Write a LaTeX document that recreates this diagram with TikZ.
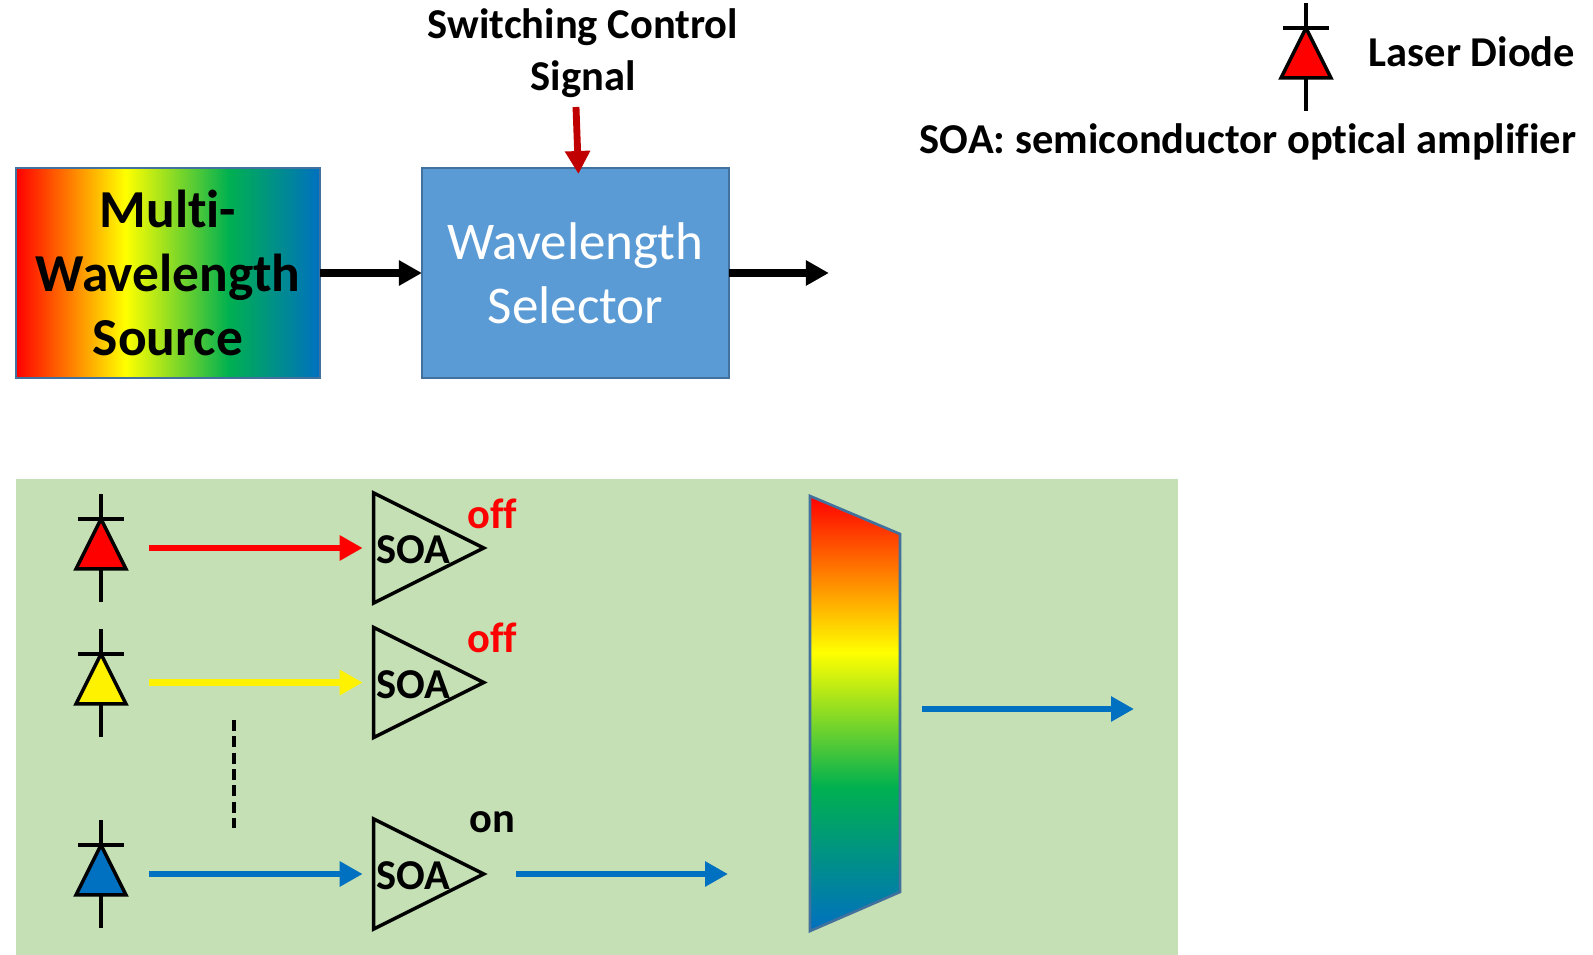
\documentclass[tikz,border=0pt]{standalone}
\usepackage{fontspec}
\setmainfont[Ligatures=NoCommon]{Carlito}
\usepackage{xcolor}
\usetikzlibrary{shapes.geometric, arrows.meta, positioning}
\definecolor{boxedge}{HTML}{41719C}
\definecolor{boxblue}{HTML}{5B9BD5}
\definecolor{panelgreen}{HTML}{C5E0B4}
\definecolor{laserblue}{HTML}{0070C0}
\definecolor{lasergreen}{HTML}{00B050}
\definecolor{ctrlred}{HTML}{C00000}
\pgfdeclarehorizontalshading{rainbowh}{100bp}{color(0bp)=(red); color(25bp)=(red); color(43bp)=(yellow); color(60bp)=(lasergreen); color(75bp)=(laserblue); color(100bp)=(laserblue)}
\pgfdeclareverticalshading{rainbowv}{100bp}{color(0bp)=(laserblue); color(25bp)=(laserblue); color(41.5bp)=(lasergreen); color(57bp)=(yellow); color(75bp)=(red); color(100bp)=(red)}
\tikzset{
	blockbox/.style={rectangle, draw=boxedge, line width=1.5pt, outer sep=0pt,
		minimum height=4.2cm, align=center},
	labeltext/.style={font=\fontsize{24.2}{29.4}\selectfont\bfseries, align=center},
	soabox/.style={isosceles triangle, isosceles triangle stretches, draw=black,
		line width=2pt, inner sep=0pt, outer sep=0pt,
		minimum width=2.2cm, minimum height=2.2cm},
	soatext/.style={font=\fontsize{24.2}{29}\selectfont\bfseries, inner sep=0pt},
	laser/.style={isosceles triangle, isosceles triangle stretches, draw=black,
		shape border rotate=90, line width=2pt, inner sep=0pt, outer sep=0pt,
		minimum width=1.0cm, minimum height=1.0cm, anchor=apex},
	lead/.style={line width=2pt, draw=black},
	bigarrow/.style={-{Triangle[length=0.46cm,width=0.48cm]}, line width=4.2pt},
	sigarrow/.style={-{Triangle[length=0.46cm,width=0.48cm]}, line width=3.9pt}
}
\begin{document}
\begin{tikzpicture}[x=0.02cm, y=-0.02cm]
	\useasboundingbox (0,0) rectangle (1593,955);
	
	%% ---- Top blocks ----
	\node[blockbox, shading=rainbowh, minimum width=6.08cm, font=\fontsize{30.4}{36.4}\selectfont\bfseries] (source) at (168,273) {Multi-\\Wavelength\\Source};
	\node[blockbox, fill=boxblue, text=white, minimum width=6.14cm, font=\fontsize{30.2}{36.4}\selectfont, right=2.04cm of source] (selector) {\raisebox{-1.5pt}{Wavelength}\\\raisebox{-1.5pt}{Selector}};
	\node[labeltext] (ctrl) at (583,53) {Switching Control\\Signal};
	\node[right=2cm of selector, inner sep=0pt] (out) {};
	\coordinate (ctrlstart) at (576,107);
	
	%% ---- Top arrows ----
	\draw[bigarrow] (source) -- (selector);
	\draw[bigarrow] (selector) -- (out);
	\draw[sigarrow, ctrlred] (ctrlstart) -- ([xshift=0.06cm,yshift=-0.12cm]selector.north);
	
	%% ---- Green panel ----
	\fill[panelgreen] (16,479) rectangle (1178,955);
	\coordinate (dotstop) at (234,720);
	\coordinate (dotsend) at (234,828);
	\draw[line width=2pt, dash pattern=on 6.3pt off 3pt] (dotstop) -- (dotsend);
	
	%% ---- Laser diodes, legend one first ----
	\foreach \n/\ybar/\col in {0/28/red, 1/519/red, 2/654/yellow, 3/845/laserblue}{
		\node[laser, fill=\col] (d\n) at (\ifnum\n=0 1306\else 101\fi,\ybar) {};
		\draw[lead] (d\n.apex) -- ++(0,-25);
		\draw[lead] ([xshift=-0.46cm]d\n.apex) -- ([xshift=0.46cm]d\n.apex);
		\draw[lead] (d\n.lower side) -- ++(0,33);
	}
	
	%% ---- SOA stages ----
	\foreach \n/\ymid/\col in {1/548/red, 2/682.5/yellow, 3/874/laserblue}{
		\node[soabox] (s\n) at (407.7,\ymid) {};
		\node[soatext, right=0.04cm of s\n.lower side, yshift=-0.04cm] (t\n) {SOA};
		\node[left=4.5cm of s\n.lower side, inner sep=0pt] (a\n) {};
		\draw[sigarrow, \col, shorten >=0.22cm] (a\n) -- (s\n.lower side);
	}
	\node[soatext, text=red] (off1) at (492.5,513.5) {off};
	\node[soatext, text=red] (off2) at (492.5,637.5) {off};
	\node[soatext] (on3) at (492,822) {on};
	
	%% ---- Output of the lit stage, combiner ----
	\coordinate (m1) at (516,874);
	\coordinate (m2) at (728,874);
	\draw[sigarrow, laserblue] (m1) -- (m2);
	\draw[draw=boxedge, line width=1.5pt, shading=rainbowv] (810,496) -- (900,534) -- (900,892) -- (810,931) -- cycle;
	\coordinate (o1) at (922,709);
	\coordinate (o2) at (1134,709);
	\draw[sigarrow, laserblue] (o1) -- (o2);
	
	%% ---- Legend text ----
	\node[labeltext] (legend1) at (1472,52) {Laser Diode};
	\node[labeltext] (legend2) at (1248,142) {SOA: semiconductor optical amplifier};
\end{tikzpicture}
\end{document}
